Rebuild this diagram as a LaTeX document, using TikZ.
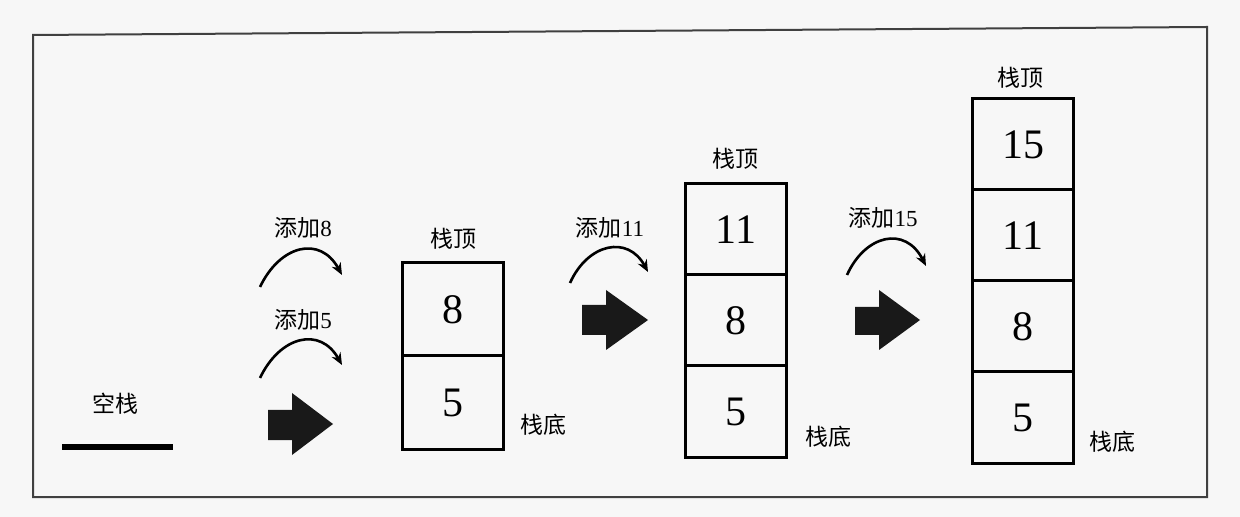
\documentclass[tikz,border=0pt]{standalone}
\usepackage{fontspec}
\setmainfont{Liberation Serif}
\newfontfamily\cjk{Noto Sans CJK SC}
\usetikzlibrary{arrows.meta}
\tikzset{
  cell/.style={draw, line width=1.5pt, outer sep=0pt, minimum width=50.5pt, minimum height=45.5pt, inner sep=0pt, font=\fontsize{21}{22}\selectfont},
  lab/.style={font=\fontsize{11.5}{13}\selectfont, inner sep=0pt},
  curv/.style={line width=1.3pt, -{Stealth[length=6pt,width=5pt]}},
  blk/.style={fill=black!90},
}
\begin{document}
\begin{tikzpicture}[x=0.5pt,y=-0.5pt]
\useasboundingbox (0,0) rectangle (1240,517);
\fill[black!3] (0,0) rectangle (1240,517);
\draw[line width=1pt, black!75] (33,35) -- (1207,27) -- (1207,497) -- (33,497) -- cycle;
% empty stack
\node[lab] (empty) at (115,404) {\cjk 空栈};
\draw[line width=3pt] (62,447) -- (173,447);
% stack 1
\node[cell, minimum height=46.5pt] (s1a) at (453,402.5) {5};
\node[cell, minimum height=46.5pt, anchor=south] (s1b) at (s1a.north) {8};
\node[lab] (t1) at (453,239) {\cjk 栈顶};
\node[lab] (b1) at (543,425) {\cjk 栈底};
% stack 2
\node[cell] (s2a) at (736,411.5) {5};
\node[cell, anchor=south] (s2b) at (s2a.north) {8};
\node[cell, anchor=south] (s2c) at (s2b.north) {11};
\node[lab] (t2) at (735,159) {\cjk 栈顶};
\node[lab] (b2) at (828,437) {\cjk 栈底};
% stack 3
\node[cell] (s3a) at (1023,417.5) {5};
\node[cell, anchor=south] (s3b) at (s3a.north) {8};
\node[cell, anchor=south] (s3c) at (s3b.north) {11};
\node[cell, anchor=south] (s3d) at (s3c.north) {15};
\node[lab] (t3) at (1020,78) {\cjk 栈顶};
\node[lab] (b3) at (1112,442) {\cjk 栈底};
% add labels and curved arrows
\node[lab] (a8) at (303,228) {{\cjk 添加}8};
\coordinate (c8s) at (260,287); \coordinate (c8e) at (342,275);
\draw[curv] (c8s) .. controls (280,245) and (320,235) .. (c8e);
\node[lab] (a5) at (303,320) {{\cjk 添加}5};
\coordinate (c5s) at (260,378); \coordinate (c5e) at (342,365);
\draw[curv] (c5s) .. controls (280,336) and (320,326) .. (c5e);
\node[lab] (a11) at (610,228) {{\cjk 添加}11};
\coordinate (c11s) at (570,283); \coordinate (c11e) at (648,272);
\draw[curv] (c11s) .. controls (588,243) and (628,235) .. (c11e);
\node[lab] (a15) at (883,218) {{\cjk 添加}15};
\coordinate (c15s) at (847,275); \coordinate (c15e) at (926,266);
\draw[curv] (c15s) .. controls (865,235) and (905,225) .. (c15e);
% block arrows
\fill[blk] (268,410) -- (292,410) -- (292,393) -- (333,424) -- (292,455) -- (292,440) -- (268,440) -- cycle;
\fill[blk] (582,305) -- (606,305) -- (606,290) -- (648,320) -- (606,350) -- (606,335) -- (582,335) -- cycle;
\fill[blk] (855,307) -- (879,307) -- (879,290) -- (920,320) -- (879,350) -- (879,335) -- (855,335) -- cycle;
\end{tikzpicture}
\end{document}
